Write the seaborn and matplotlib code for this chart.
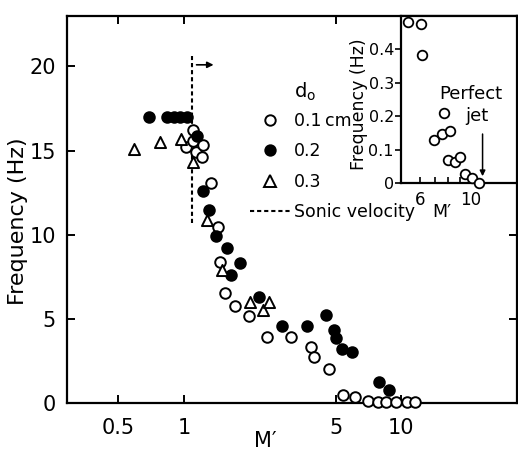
import matplotlib
matplotlib.use("Agg")
import matplotlib.pyplot as plt
from matplotlib.lines import Line2D
from matplotlib.ticker import NullLocator
import pandas as pd
import seaborn as sns

# ── data ──────────────────────────────────────────────────────────────────────
m_01 = [1.02, 1.10, 1.10, 1.14, 1.21, 1.23, 1.33, 1.44, 1.47, 1.54, 1.72, 1.99,
        2.40, 3.12, 3.85, 3.95, 4.67, 5.37, 6.15, 7.0, 7.8, 8.5, 9.4, 10.6, 11.5]
f_01 = [15.2, 16.2, 15.6, 14.9, 14.6, 15.35, 13.1, 10.45, 8.4, 6.55, 5.75, 5.2,
        3.95, 3.9, 3.35, 2.75, 2.0, 0.5, 0.37, 0.1, 0.05, 0.05, 0.05, 0.05, 0.05]

m_02 = [0.69, 0.84, 0.90, 0.96, 1.03, 1.15, 1.23, 1.30, 1.41, 1.57, 1.64, 1.82,
        2.22, 2.84, 3.68, 4.51, 4.88, 4.98, 5.34, 5.94, 7.86, 8.75]
f_02 = [17.0, 17.0, 17.0, 17.0, 17.0, 15.85, 12.6, 11.5, 9.95, 9.2, 7.6, 8.3,
        6.3, 4.57, 4.57, 5.22, 4.33, 3.84, 3.19, 3.04, 1.26, 0.8]

m_03 = [0.59, 0.78, 0.97, 1.10, 1.28, 1.49, 2.01, 2.31, 2.46]
f_03 = [15.1, 15.5, 15.7, 14.3, 10.9, 7.9, 6.0, 5.5, 6.0]

# inset: 0.1 cm nozzle, high M'
m_in = [5.29, 6.06, 6.1, 6.95, 7.49, 7.62, 8.15, 8.0, 8.58, 8.96, 9.5, 10.2, 10.9]
f_in = [0.482, 0.477, 0.382, 0.128, 0.148, 0.21, 0.155, 0.069, 0.064, 0.078,
        0.027, 0.014, 0.0]

sonic_m = 1.09
sonic_f = [10.7, 20.6]

x_ticks = [0.5, 1, 5, 10]
x_labels = ["0.5", "1", "5", "10"]
y_ticks = [0, 5, 10, 15, 20]
in_x_ticks = [6, 7, 8, 9, 10]
in_x_labels = ["6", "", "", "", "10"]
in_y_ticks = [0, 0.1, 0.2, 0.3, 0.4]
in_y_labels = ["0", "0.1", "0.2", "0.3", "0.4"]

groups = [
    ("0.1\u2009cm", m_01, f_01, "o", "white"),
    ("0.2", m_02, f_02, "o", "black"),
    ("0.3", m_03, f_03, "^", "white"),
]

# ── figure ────────────────────────────────────────────────────────────────────
sns.set_style("ticks")
plt.rcParams["font.family"] = ["DejaVu Sans"]
plt.rcParams["axes.linewidth"] = 1.6
for key in ["text.color", "axes.labelcolor", "xtick.color", "ytick.color",
            "axes.edgecolor"]:
    plt.rcParams[key] = "black"

fig = plt.figure(figsize=(5.18, 4.5), dpi=100)
ax = fig.add_axes([0.1293, 0.1044, 0.8687, 0.86])

for name, m, f, mk, fc in groups:
    df = pd.DataFrame({"M": m, "F": f})
    sns.scatterplot(data=df, x="M", y="F", marker=mk, s=58 if mk == "o" else 64,
                    facecolor=fc, edgecolor="black", linewidth=1.4,
                    clip_on=False, zorder=3, ax=ax, legend=False)

ax.plot([sonic_m, sonic_m], sonic_f, color="black", lw=1.5,
        ls=(0, (2, 1.4)), zorder=2)
ax.annotate("", xy=(1.41, 20.1), xytext=(1.11, 20.1),
            arrowprops=dict(arrowstyle="-|>", lw=1.2, color="black",
                            mutation_scale=9))

ax.set_xscale("log")
ax.set_xlim(0.29, 34)
ax.set_ylim(0, 23)
ax.set_xticks(x_ticks, labels=x_labels)
ax.xaxis.set_minor_locator(NullLocator())
ax.set_yticks(y_ticks)
ax.tick_params(direction="in", length=6, width=1.4, labelsize=15, pad=8,
               top=True, right=True)
ax.tick_params(axis="x", pad=11)
ax.set_xlabel("M′", fontsize=15)
ax.xaxis.set_label_coords(0.44, -0.072)
ax.set_ylabel("Frequency (Hz)", fontsize=16)
ax.yaxis.set_label_coords(-0.087, 0.47)

handles = [
    Line2D([], [], ls="", marker="o", ms=7.5, mfc="white", mec="black", mew=1.4),
    Line2D([], [], ls="", marker="o", ms=7.5, mfc="black", mec="black", mew=1.4),
    Line2D([], [], ls="", marker="^", ms=8, mfc="white", mec="black", mew=1.4),
    Line2D([], [], color="black", lw=1.5, ls=(0, (2, 1.4))),
]
labels = [g[0] for g in groups] + ["Sonic velocity"]
ax.legend(handles, labels, loc="upper left", bbox_to_anchor=(0.407, 0.752),
          frameon=False, fontsize=12.5, handlelength=2.3, handletextpad=0.2,
          labelspacing=0.72, borderpad=0, borderaxespad=0)
ax.text(0.529, 0.805, r"$\mathregular{d_o}$", transform=ax.transAxes,
        fontsize=14, ha="center", va="center")

# ── inset ─────────────────────────────────────────────────────────────────────
ax_in = fig.add_axes([0.774, 0.5933, 0.224, 0.371])
ax_in.set_facecolor("white")
sns.scatterplot(x=m_in, y=f_in, marker="o", s=48, facecolor="white",
                edgecolor="black", linewidth=1.3, clip_on=False, zorder=3,
                ax=ax_in, legend=False)
ax_in.set_xscale("log")
ax_in.set_xlim(4.95, 16)
ax_in.set_ylim(0, 0.5)
ax_in.set_xticks(in_x_ticks, labels=in_x_labels)
ax_in.xaxis.set_minor_locator(NullLocator())
ax_in.set_yticks(in_y_ticks, labels=in_y_labels)
ax_in.tick_params(axis="x", direction="in", length=4, width=1.2,
                  labelsize=12, pad=6)
ax_in.tick_params(axis="y", direction="out", length=4, width=1.2,
                  labelsize=11.5, pad=1)
ax_in.set_xlabel("M′", fontsize=12.5)
ax_in.xaxis.set_label_coords(0.35, -0.12)
ax_in.set_ylabel("Frequency (Hz)", fontsize=12.5)
ax_in.yaxis.set_label_coords(-0.28, 0.47)

ax_in.annotate("", xy=(11.3, 0.012), xytext=(11.3, 0.155),
               arrowprops=dict(arrowstyle="-|>", lw=1.1, color="black",
                               mutation_scale=8))
ax_in.text(10.0, 0.266, "Perfect", fontsize=13, ha="center", va="center")
ax_in.text(10.7, 0.2, "jet", fontsize=13, ha="center", va="center")

fig.savefig("out.png", dpi=100)
